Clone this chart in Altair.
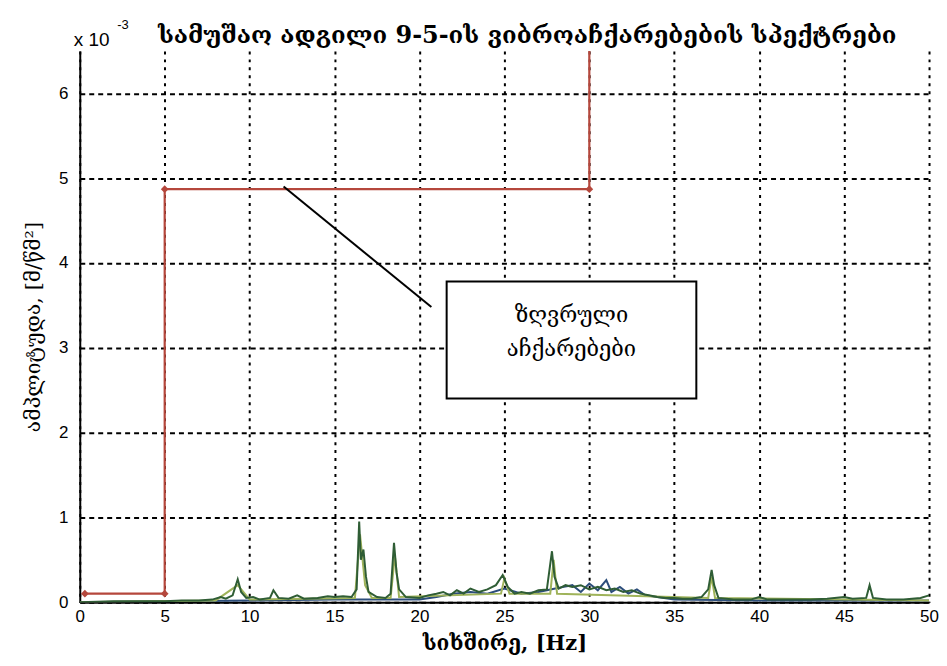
import altair as alt
import pandas as pd

# ---- data (amplitudes in units of 1e-3 m/s^2) ----
green_f = [0, 2, 4, 5, 6, 7, 7.8, 8.3, 8.6, 9.0, 9.3, 9.5, 9.8, 10.2, 10.6, 11.2, 11.4, 11.7, 12.3, 12.8,
           13.2, 14, 14.6, 15, 15.5, 16, 16.3, 16.45, 16.55, 16.7, 16.85, 17.0, 17.5, 18.0, 18.3, 18.5, 18.65,
           18.8, 19.2, 20, 20.5, 21, 21.4, 21.8, 22.2, 22.6, 23, 23.5, 24, 24.5, 24.9, 25.2, 25.6, 26, 26.5,
           27, 27.5, 27.8, 27.95, 28.2, 28.6, 29, 29.5, 30, 30.5, 31, 31.5, 32, 32.5, 33, 33.5, 34, 34.5, 35,
           35.5, 36, 36.6, 37.0, 37.2, 37.35, 37.6, 38.5, 39.5, 40, 40.5, 42, 43, 44, 45, 45.5, 46.3, 46.5,
           46.7, 47.5, 48.5, 49.5, 50]
green_a = [0.0, 0.01, 0.01, 0.01, 0.02, 0.02, 0.03, 0.06, 0.04, 0.08, 0.27, 0.12, 0.05, 0.06, 0.03, 0.05, 0.14, 0.05, 0.04, 0.08,
           0.04, 0.05, 0.07, 0.06, 0.07, 0.06, 0.15, 0.95, 0.5, 0.62, 0.3, 0.12, 0.06, 0.05, 0.1, 0.7, 0.35,
           0.15, 0.06, 0.05, 0.08, 0.1, 0.12, 0.08, 0.14, 0.1, 0.16, 0.12, 0.15, 0.2, 0.32, 0.18, 0.1, 0.12, 0.1,
           0.14, 0.15, 0.6, 0.3, 0.16, 0.2, 0.18, 0.2, 0.15, 0.18, 0.14, 0.16, 0.12, 0.14, 0.1, 0.08, 0.06, 0.05, 0.05,
           0.04, 0.04, 0.06, 0.15, 0.38, 0.2, 0.05, 0.03, 0.03, 0.06, 0.03, 0.03, 0.03, 0.04, 0.06, 0.04, 0.05, 0.2,
           0.05, 0.03, 0.03, 0.05, 0.08]

blue_f = [0, 10, 15, 20, 21, 22, 23, 24, 25, 26, 27, 28, 28.5, 29, 29.5, 30, 30.5, 31, 31.3, 31.8, 32.3,
          32.8, 33.3, 34, 35, 40, 50]
blue_a = [0.0, 0.02, 0.03, 0.03, 0.06, 0.1, 0.12, 0.1, 0.16, 0.1, 0.12, 0.16, 0.18, 0.2, 0.12, 0.22, 0.14,
          0.26, 0.12, 0.18, 0.1, 0.15, 0.08, 0.06, 0.03, 0.02, 0.02]

olive_f = [0, 8, 9.3, 10, 16.2, 16.5, 16.8, 17.2, 18.3, 18.55, 18.8, 24.8, 25.0, 25.3, 27.7, 27.9, 28.1, 37.0, 37.2, 37.4, 50]
olive_a = [0.0, 0.02, 0.2, 0.03, 0.05, 0.8, 0.2, 0.05, 0.05, 0.55, 0.06, 0.1, 0.28, 0.1, 0.1, 0.5, 0.1, 0.05, 0.3, 0.05, 0.02]

limit_f = [0.3, 5, 5, 30, 30]
limit_a = [0.1, 0.1, 4.87, 4.87, 6.5]
limit_markers = [0, 1, 2, 3]

arrow_f = [12.0, 20.7]
arrow_a = [4.9, 3.48]

box_f = [21.6, 36.3]
box_a = [2.4, 3.78]
box_lines = ["ზღვრული", "აჩქარებები"]
box_line_a = [3.38, 2.98]

title_text = "სამუშაო ადგილი 9-5-ის ვიბროაჩქარებების სპექტრები"
x_title = "სიხშირე, [Hz]"
y_title = "ამპლიტუდა, [მ/წმ²]"
x_ticks = [0, 5, 10, 15, 20, 25, 30, 35, 40, 45, 50]
y_ticks = [0, 1, 2, 3, 4, 5, 6]

GEO = "DejaVu Serif"
LAT = "Liberation Sans"

spec = pd.concat([
    pd.DataFrame({"f": blue_f, "a": blue_a, "s": "blue"}),
    pd.DataFrame({"f": olive_f, "a": olive_a, "s": "olive"}),
    pd.DataFrame({"f": green_f, "a": green_a, "s": "green"}),
])

xs = alt.Scale(domain=[0, 50], nice=False)
ys = alt.Scale(domain=[0, 6.5], nice=False)

x_axis = alt.Axis(values=x_ticks, title=x_title, format="d", grid=True, gridDash=[3, 5], gridColor="black",
                  gridWidth=2, gridOpacity=1, domainColor="black", domainWidth=2, ticks=False,
                  labelFont=LAT, labelFontSize=17, labelColor="black", labelPadding=6,
                  titleFont=GEO, titleFontSize=21, titleFontWeight="bold", titleColor="black",
                  titlePadding=9, labelFlush=False)
y_axis = alt.Axis(values=y_ticks, title=y_title, format="d", grid=True, gridDash=[5, 4], gridColor="black",
                  gridWidth=2, gridOpacity=1, domainColor="black", domainWidth=2, ticks=False,
                  labelFont=LAT, labelFontSize=17, labelColor="black", labelPadding=12,
                  titleFont=GEO, titleFontSize=21, titleFontWeight="normal", titleColor="black",
                  titlePadding=15, labelFlush=False)

lines = alt.Chart(spec).mark_line(strokeWidth=2, clip=True).encode(
    x=alt.X("f:Q", scale=xs, axis=x_axis),
    y=alt.Y("a:Q", scale=ys, axis=y_axis),
    color=alt.Color("s:N", scale=alt.Scale(domain=["blue", "olive", "green"],
                                          range=["#2c4d7a", "#9fb35a", "#2f5d35"]), legend=None),
    detail="s:N",
)

lim_df = pd.DataFrame({"f": limit_f, "a": limit_a, "i": list(range(len(limit_f)))})
limit = alt.Chart(lim_df).mark_line(color="#b5473c", strokeWidth=2.2).encode(
    x=alt.X("f:Q", scale=xs), y=alt.Y("a:Q", scale=ys), order="i:Q")
mk_df = pd.DataFrame({"f": [limit_f[i] for i in limit_markers], "a": [limit_a[i] for i in limit_markers]})
markers = alt.Chart(mk_df).mark_point(shape="diamond", filled=True, color="#b5473c", size=60, opacity=1).encode(
    x=alt.X("f:Q", scale=xs), y=alt.Y("a:Q", scale=ys))

arr_df = pd.DataFrame({"f": arrow_f, "a": arrow_a})
arrow = alt.Chart(arr_df).mark_line(color="black", strokeWidth=2).encode(
    x=alt.X("f:Q", scale=xs), y=alt.Y("a:Q", scale=ys))

box_df = pd.DataFrame({"x1": [box_f[0]], "x2": [box_f[1]], "y1": [box_a[0]], "y2": [box_a[1]]})
box = alt.Chart(box_df).mark_rect(fill="white", stroke="black", strokeWidth=2).encode(
    x=alt.X("x1:Q", scale=xs), x2="x2:Q", y=alt.Y("y1:Q", scale=ys), y2="y2:Q")

bt_df = pd.DataFrame({"t": box_lines, "a": box_line_a, "f": [(box_f[0] + box_f[1]) / 2] * 2})
box_text = alt.Chart(bt_df).mark_text(font=GEO, fontSize=22, color="black").encode(
    x=alt.X("f:Q", scale=xs), y=alt.Y("a:Q", scale=ys), text="t:N")

mult_df = pd.DataFrame({"t": ["x 10"], "f": [-0.35], "a": [6.63]})
mult = alt.Chart(mult_df).mark_text(font=LAT, fontSize=19, color="black", align="left").encode(
    x=alt.X("f:Q", scale=xs), y=alt.Y("a:Q", scale=ys), text="t:N")
exp_df = pd.DataFrame({"t": ["-3"], "f": [2.2], "a": [6.8]})
expo = alt.Chart(exp_df).mark_text(font=LAT, fontSize=13, color="black", align="left").encode(
    x=alt.X("f:Q", scale=xs), y=alt.Y("a:Q", scale=ys), text="t:N")

tt_df = pd.DataFrame({"t": [title_text], "f": [4.6], "a": [6.68]})
title = alt.Chart(tt_df).mark_text(font=GEO, fontSize=24, fontWeight="bold", color="black", align="left").encode(
    x=alt.X("f:Q", scale=xs), y=alt.Y("a:Q", scale=ys), text="t:N")

chart = alt.layer(lines, limit, markers, arrow, box, box_text, mult, expo, title).properties(
    width=852, height=553,
    autosize=alt.AutoSizeParams(type="none"),
    padding={"left": 72, "top": 42, "right": 10, "bottom": 56},
    background="white",
).configure_view(stroke=None)

chart.save("out.html", embed_options={"renderer": "svg", "actions": False})
